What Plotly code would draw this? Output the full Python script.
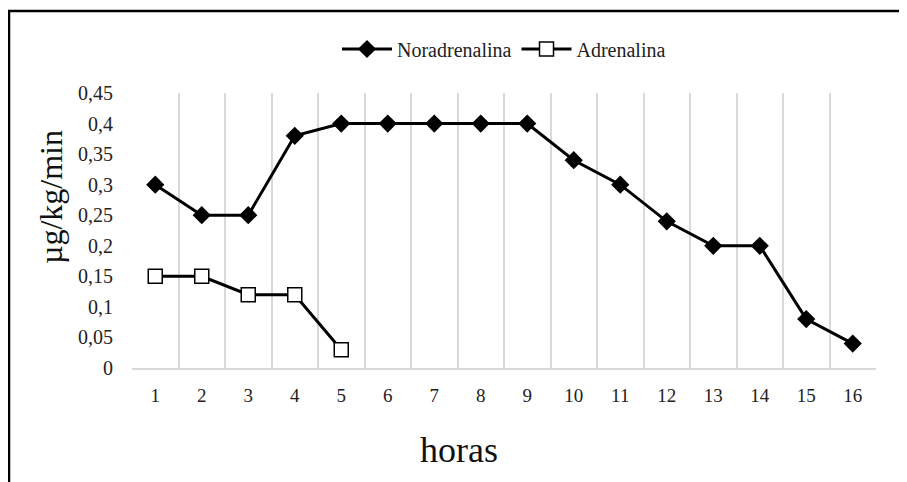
import plotly.graph_objects as go

horas = list(range(1, 17))
noradrenalina = [0.30, 0.25, 0.25, 0.38, 0.40, 0.40, 0.40, 0.40, 0.40, 0.34, 0.30, 0.24, 0.20, 0.20, 0.08, 0.04]
horas_adr = [1, 2, 3, 4, 5]
adrenalina = [0.15, 0.15, 0.12, 0.12, 0.03]
y_ticks = [0, 0.05, 0.1, 0.15, 0.2, 0.25, 0.3, 0.35, 0.4, 0.45]
y_ticktext = ["0", "0,05", "0,1", "0,15", "0,2", "0,25", "0,3", "0,35", "0,4", "0,45"]

OFF = 8  # page body margin
W, H = 907 - OFF, 482 - OFF
L, T = 132 - OFF, 93 - OFF
pw, ph = 744, 275
R, B = W - L - pw, H - T - ph

def px(x):
    return (x - OFF - L) / pw

def py(y):
    return (T + ph - (y - OFF)) / ph

font = "Liberation Serif"

fig = go.Figure()
fig.add_trace(go.Scatter(
    x=horas, y=noradrenalina, name="Noradrenalina", mode="lines+markers",
    line=dict(color="black", width=3),
    marker=dict(symbol="diamond", size=14, color="black"),
))
fig.add_trace(go.Scatter(
    x=horas_adr, y=adrenalina, name="Adrenalina", mode="lines+markers",
    line=dict(color="black", width=3),
    marker=dict(symbol="square", size=14, color="white", line=dict(color="black", width=1.5)),
))

fig.update_layout(
    width=W, height=H,
    margin=dict(l=L, r=R, t=T, b=B),
    paper_bgcolor="white", plot_bgcolor="white",
    font=dict(family=font, color="#222", size=18),
    showlegend=True,
    legend=dict(orientation="h", x=0.5, xanchor="center", y=py(49), yanchor="middle",
                font=dict(size=20, family=font, color="#222"), itemwidth=50),
    xaxis=dict(
        range=[0.5, 16.5], tickvals=horas, ticktext=[str(h) for h in horas],
        showgrid=False, zeroline=False,
        showline=True, linecolor="#d9d9d9", linewidth=1.5,
        ticks="", ticklabelstandoff=9,
        tickfont=dict(size=19, family=font, color="#222"),
        minor=dict(tickvals=[h + 0.5 for h in range(0, 17)], showgrid=True,
                   gridcolor="#d9d9d9", gridwidth=1.5),
    ),
    yaxis=dict(
        range=[0, 0.45], tickvals=y_ticks, ticktext=y_ticktext,
        showgrid=False, zeroline=False, showline=False,
        ticks="", ticklabelstandoff=18,
        tickfont=dict(size=20, family=font, color="#222"),
    ),
    annotations=[
        dict(text="µg/kg/min", x=px(51), y=py(197), xref="paper", yref="paper",
             textangle=-90, showarrow=False, font=dict(size=32, family=font, color="#111"),
             xanchor="center", yanchor="middle"),
        dict(text="horas", x=px(459), y=py(450), xref="paper", yref="paper",
             showarrow=False, font=dict(size=36, family=font, color="#111"),
             xanchor="center", yanchor="middle"),
    ],
    shapes=[
        dict(type="path", xref="paper", yref="paper",
             path=f"M {px(9)} {py(500)} L {px(9)} {py(11)} L {px(920)} {py(11)}",
             line=dict(color="black", width=2.5)),
    ],
)

fig.write_html("out.html")
